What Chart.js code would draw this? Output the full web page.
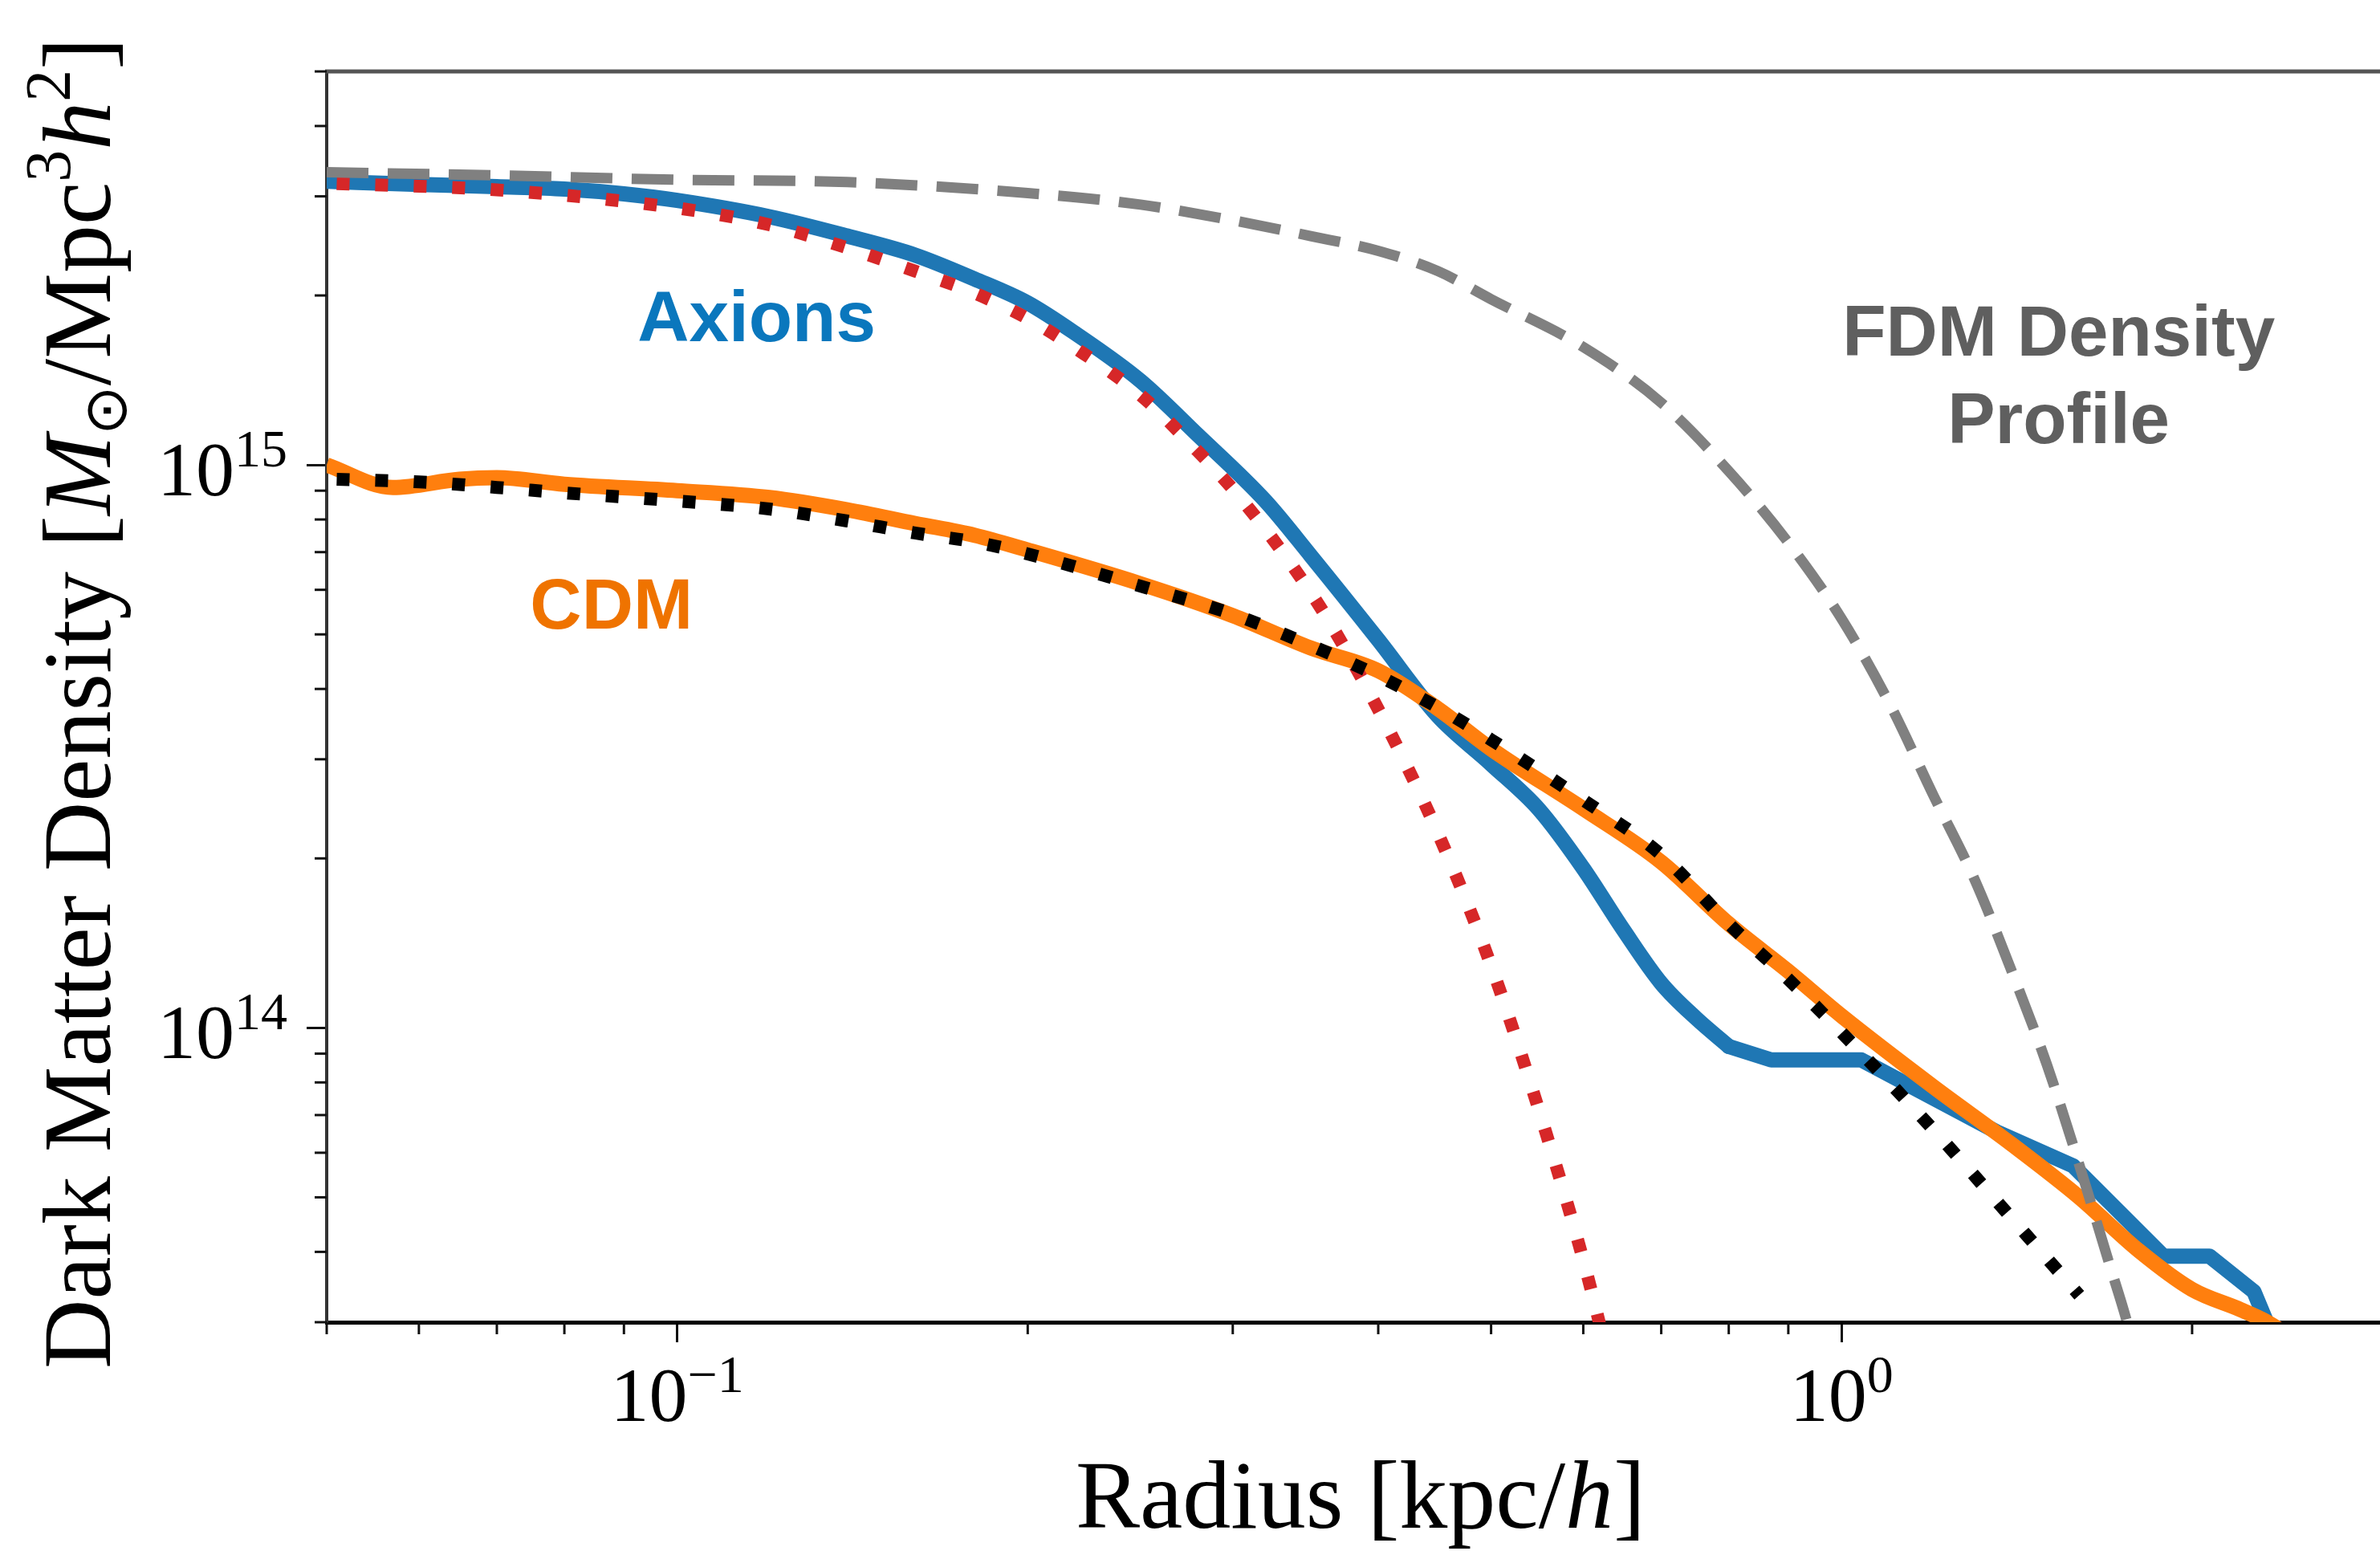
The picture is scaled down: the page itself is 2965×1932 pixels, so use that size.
<!DOCTYPE html>
<html lang="en">
<head>
<meta charset="UTF-8">
<title>Dark Matter Density Profile</title>
<script src="https://cdn.jsdelivr.net/npm/chart.js"></script>
<style>
  html, body { margin: 0; padding: 0; background: #fff; overflow: hidden; }
  #wrap { width: 2965px; height: 1932px; position: relative; }
</style>
</head>
<body>
<div id="wrap"><canvas id="chartDensidad"></canvas></div>
<script>
// Radius in kpc/h, density in M_sun / (Mpc^3 h^2)
const fdmRadius  = [0.05, 0.07, 0.1, 0.14, 0.2, 0.25, 0.3, 0.35, 0.4, 0.45, 0.5, 0.6, 0.7, 0.8, 0.9, 1.0, 1.1, 1.2, 1.3, 1.4, 1.5, 1.6, 1.7, 1.75, 1.8];
const fdmDensity = [3.31e15, 3.27e15, 3.21e15, 3.18e15, 3.04e15, 2.90e15, 2.72e15, 2.55e15, 2.40e15, 2.21e15, 1.97e15, 1.62e15, 1.29e15, 9.75e14, 7.28e14, 5.33e14, 3.76e14, 2.58e14, 1.84e14, 1.26e14, 8.63e13, 5.71e13, 3.78e13, 3.11e13, 2.5e13];

const axionRadius  = [0.05, 0.06, 0.07, 0.08, 0.09, 0.1, 0.12, 0.14, 0.16, 0.18, 0.2, 0.22, 0.25, 0.28, 0.32, 0.35, 0.4, 0.45, 0.5, 0.55, 0.6, 0.65, 0.7, 0.75, 0.8, 0.87, 1.04, 1.36, 1.58, 1.89, 2.07, 2.26, 2.35];
const axionDensity = [3.19e15, 3.15e15, 3.12e15, 3.09e15, 3.03e15, 2.95e15, 2.76e15, 2.55e15, 2.36e15, 2.14e15, 1.94e15, 1.71e15, 1.41e15, 1.13e15, 8.63e14, 6.90e14, 4.89e14, 3.58e14, 2.94e14, 2.44e14, 1.92e14, 1.49e14, 1.20e14, 1.04e14, 9.27e13, 8.77e13, 8.77e13, 6.53e13, 5.69e13, 3.93e13, 3.93e13, 3.40e13, 2.8e13];
// the simulated profile is smooth up to here, then steps
const axionKneeRadius = 0.8;

const solitonRadius  = [0.051, 0.07, 0.1, 0.12, 0.14, 0.16, 0.18, 0.2, 0.22, 0.25, 0.28, 0.3, 0.33, 0.36, 0.4, 0.45, 0.5, 0.55, 0.6, 0.63];
const solitonDensity = [3.16e15, 3.08e15, 2.86e15, 2.67e15, 2.43e15, 2.21e15, 2.02e15, 1.82e15, 1.61e15, 1.33e15, 1.057e15, 9.06e14, 7.06e14, 5.42e14, 3.68e14, 2.22e14, 1.29e14, 7.11e13, 3.87e13, 2.6e13];

const cdmRadius  = [0.05, 0.057, 0.065, 0.07, 0.08, 0.1, 0.12, 0.14, 0.16, 0.18, 0.2, 0.25, 0.3, 0.35, 0.4, 0.45, 0.5, 0.6, 0.7, 0.8, 0.9, 1.0, 1.2, 1.4, 1.6, 1.8, 2.0, 2.2, 2.3, 2.45];
const cdmDensity = [1.0e15, 9.12e14, 9.43e14, 9.49e14, 9.24e14, 9.0e14, 8.75e14, 8.32e14, 7.87e14, 7.5e14, 7.06e14, 6.15e14, 5.40e14, 4.73e14, 4.31e14, 3.69e14, 3.13e14, 2.45e14, 1.97e14, 1.53e14, 1.26e14, 1.05e14, 7.85e13, 6.21e13, 5.0e13, 4.02e13, 3.43e13, 3.16e13, 3.03e13, 2.8e13];

const nfwRadius  = [0.051, 0.06, 0.07, 0.08, 0.1, 0.12, 0.14, 0.16, 0.18, 0.2, 0.25, 0.3, 0.35, 0.4, 0.45, 0.5, 0.6, 0.7, 0.8, 0.9, 1.0, 1.2, 1.4, 1.6];
const nfwDensity = [9.43e14, 9.33e14, 9.12e14, 8.92e14, 8.63e14, 8.35e14, 7.95e14, 7.57e14, 7.30e14, 6.95e14, 6.09e14, 5.43e14, 4.78e14, 4.22e14, 3.71e14, 3.25e14, 2.54e14, 2.03e14, 1.53e14, 1.22e14, 9.81e13, 6.58e13, 4.59e13, 3.35e13];

// tick labels: 10 raised to these exponents
const xTickValues = [0.1, 1];
const xTickExponents = ['−1', '0'];
const yTickValues = [1e14, 1e15];
const yTickExponents = ['14', '15'];

// text labels placed in data coordinates
const annotations = [
  { text: 'Axions', r: 0.117, rho: 1.66e15, color: '#0a77bd' },
  { text: 'CDM', r: 0.0878, rho: 5.12e14, color: '#ef7300' },
  { text: 'FDM Density', r: 1.536, rho: 1.562e15, color: '#5f5f5f' },
  { text: 'Profile', r: 1.536, rho: 1.093e15, color: '#5f5f5f' }
];

const serif = '"Liberation Serif", "DejaVu Serif", serif';
const minorTickLength = 15;

// axis titles as runs of text (italic symbols, sub/superscripts)
const yTitleRuns = [
  { text: 'Dark Matter Density [', font: '120px ' + serif },
  { text: 'M', font: 'italic 120px ' + serif },
  { text: '⊙', font: '74px "DejaVu Sans", sans-serif', dy: 20 },
  { text: '/Mpc', font: '120px ' + serif },
  { text: '3', font: '80px ' + serif, dy: -50 },
  { text: 'h', font: 'italic 120px ' + serif },
  { text: '2', font: '80px ' + serif, dy: -50 },
  { text: ']', font: '120px ' + serif }
];
const xTitleRuns = [
  { text: 'Radius [kpc/', font: '120px ' + serif },
  { text: 'h', font: 'italic 120px ' + serif },
  { text: ']', font: '120px ' + serif }
];

function toPoints(xs, ys) {
  return xs.map((x, i) => ({ x: x, y: ys[i] }));
}
function isMajor(v) {
  const l = Math.log10(v);
  return Math.abs(l - Math.round(l)) < 1e-6;
}
function isNice(v) {
  const e = Math.floor(Math.log10(v) + 1e-9);
  const s = v / Math.pow(10, e);
  return Math.abs(s - Math.round(s)) < 1e-6;
}
function runsWidth(ctx, runs) {
  let w = 0;
  runs.forEach(r => { ctx.font = r.font; w += ctx.measureText(r.text).width; });
  return w;
}
function drawRuns(ctx, runs, x, y) {
  let cx = x;
  runs.forEach(r => {
    ctx.font = r.font;
    ctx.fillText(r.text, cx, y + (r.dy || 0));
    cx += ctx.measureText(r.text).width;
  });
}
function powerRuns(exp) {
  return [
    { text: '10', font: '96px ' + serif },
    { text: exp, font: '66px ' + serif, dy: -36 }
  ];
}

// spines, minor ticks, tick labels, axis titles and the text labels
const ejesPlugin = {
  id: 'ejes',
  afterDraw(chart) {
    const ctx = chart.ctx;
    const area = chart.chartArea;
    const sx = chart.scales.x;
    const sy = chart.scales.y;
    ctx.save();
    ctx.strokeStyle = '#555';
    ctx.lineWidth = 5;
    ctx.beginPath();
    ctx.moveTo(area.left - 2, area.top);
    ctx.lineTo(area.right, area.top);
    ctx.stroke();

    ctx.strokeStyle = '#111';
    ctx.lineWidth = 3;
    sx.ticks.forEach(t => {
      if (isMajor(t.value)) return;
      const px = sx.getPixelForValue(t.value);
      ctx.beginPath();
      ctx.moveTo(px, area.bottom);
      ctx.lineTo(px, area.bottom + minorTickLength);
      ctx.stroke();
    });
    sy.ticks.forEach(t => {
      if (isMajor(t.value)) return;
      const py = sy.getPixelForValue(t.value);
      ctx.beginPath();
      ctx.moveTo(area.left, py);
      ctx.lineTo(area.left - minorTickLength, py);
      ctx.stroke();
    });

    // tick labels
    ctx.fillStyle = '#000';
    ctx.textAlign = 'left';
    ctx.textBaseline = 'alphabetic';
    xTickValues.forEach((v, i) => {
      const runs = powerRuns(xTickExponents[i]);
      const w = runsWidth(ctx, runs);
      drawRuns(ctx, runs, sx.getPixelForValue(v) - w / 2, area.bottom + 123);
    });
    yTickValues.forEach((v, i) => {
      const runs = powerRuns(yTickExponents[i]);
      const w = runsWidth(ctx, runs);
      drawRuns(ctx, runs, area.left - 49 - w, sy.getPixelForValue(v) + 38);
    });

    // axis titles
    const wx = runsWidth(ctx, xTitleRuns);
    drawRuns(ctx, xTitleRuns, (area.left + area.right) / 2 + 9 - wx / 2, area.bottom + 256);
    const wy = runsWidth(ctx, yTitleRuns);
    ctx.save();
    ctx.translate(137, (area.top + area.bottom) / 2 + 8 + wy / 2);
    ctx.rotate(-Math.PI / 2);
    drawRuns(ctx, yTitleRuns, 0, 0);
    ctx.restore();

    // curve labels
    ctx.textAlign = 'center';
    ctx.font = 'bold 89px "Liberation Sans", Arial, sans-serif';
    annotations.forEach(a => {
      ctx.fillStyle = a.color;
      ctx.fillText(a.text, sx.getPixelForValue(a.r), sy.getPixelForValue(a.rho));
    });
    ctx.restore();
  }
};

const gridOpts = {
  drawOnChartArea: false,
  drawTicks: true,
  tickLength: 25,
  tickWidth: 3,
  tickColor: c => (c.tick && isMajor(c.tick.value)) ? '#111' : 'rgba(0,0,0,0)'
};

// split the axion profile: smooth inner part, piecewise outer part
const kneeIndex = axionRadius.indexOf(axionKneeRadius);
const axionInner = toPoints(axionRadius.slice(0, kneeIndex + 1), axionDensity.slice(0, kneeIndex + 1));
const axionOuter = toPoints(axionRadius.slice(kneeIndex), axionDensity.slice(kneeIndex));

const ctxDensidad = document.getElementById('chartDensidad').getContext('2d');
const chartDensidad = new Chart(ctxDensidad, {
  type: 'line',
  data: {
    datasets: [
      {
        label: 'FDM Density Profile',
        data: toPoints(fdmRadius, fdmDensity),
        borderColor: '#808080',
        borderWidth: 13,
        borderDash: [52, 24],
        cubicInterpolationMode: 'monotone',
        pointRadius: 0,
        clip: 0
      },
      {
        label: 'CDM fit',
        data: toPoints(nfwRadius, nfwDensity),
        borderColor: '#000000',
        borderWidth: 16,
        borderDash: [16, 32],
        cubicInterpolationMode: 'monotone',
        pointRadius: 0,
        clip: 0
      },
      {
        label: 'Axion fit',
        data: toPoints(solitonRadius, solitonDensity),
        borderColor: '#d62728',
        borderWidth: 16,
        borderDash: [16, 32],
        cubicInterpolationMode: 'monotone',
        pointRadius: 0,
        clip: 0
      },
      {
        label: 'CDM',
        data: toPoints(cdmRadius, cdmDensity),
        borderColor: '#ff7f0e',
        borderWidth: 19,
        borderJoinStyle: 'round',
        cubicInterpolationMode: 'monotone',
        pointRadius: 0,
        clip: 0
      },
      {
        label: 'Axions',
        data: axionInner,
        borderColor: '#1f77b4',
        borderWidth: 19,
        borderJoinStyle: 'round',
        borderCapStyle: 'round',
        cubicInterpolationMode: 'monotone',
        pointRadius: 0,
        clip: 0
      },
      {
        label: 'Axions (outer)',
        data: axionOuter,
        borderColor: '#1f77b4',
        borderWidth: 19,
        borderJoinStyle: 'round',
        borderCapStyle: 'round',
        tension: 0,
        pointRadius: 0,
        clip: 0
      }
    ]
  },
  options: {
    responsive: true,
    maintainAspectRatio: false,
    animation: false,
    layout: { padding: { top: 89, right: 0, bottom: 0, left: 0 } },
    plugins: {
      legend: { display: false },
      tooltip: { enabled: false }
    },
    scales: {
      x: {
        type: 'logarithmic',
        min: 0.05,
        max: 2.9,
        afterBuildTicks: s => { s.ticks = s.ticks.filter(t => isNice(t.value)); },
        afterFit: s => { s.height = 285; },
        border: { display: true, color: '#000', width: 5 },
        grid: gridOpts,
        ticks: { display: false, autoSkip: false },
        title: { display: false }
      },
      y: {
        type: 'logarithmic',
        min: 3e13,
        max: 5e15,
        afterBuildTicks: s => { s.ticks = s.ticks.filter(t => isNice(t.value)); },
        afterFit: s => { s.width = 407; },
        border: { display: true, color: '#333', width: 4 },
        grid: gridOpts,
        ticks: { display: false, autoSkip: false },
        title: { display: false }
      }
    }
  },
  plugins: [ejesPlugin]
});
</script>
</body>
</html>
